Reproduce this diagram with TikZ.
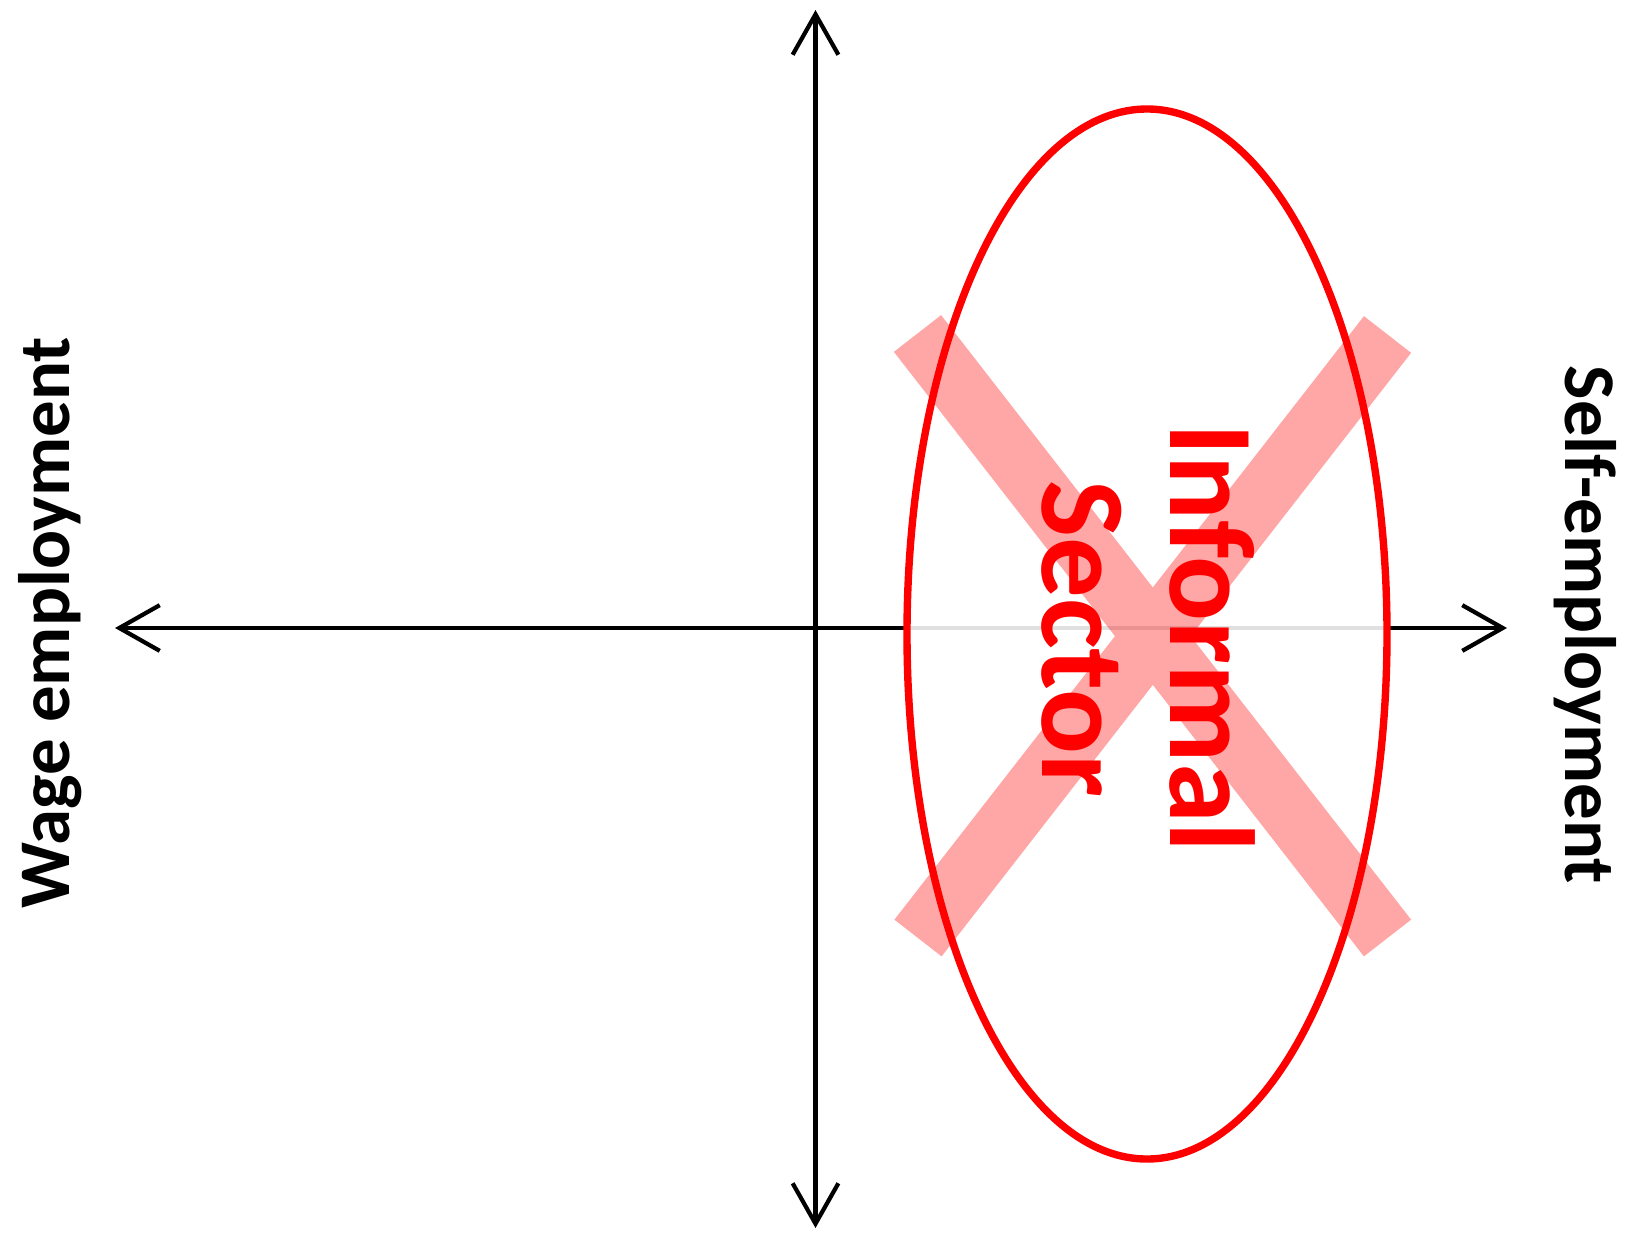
\documentclass[tikz,border=0pt]{standalone}
\usepackage{fontspec}
\setmainfont{Carlito}
\usetikzlibrary{arrows.meta}
\begin{document}
\begin{tikzpicture}[x=0.01cm, y=-0.01cm, >={Straight Barb[length=11.5pt, width=13pt]}]

	% Styles
	\tikzset{
		axisLine/.style={line width=1.2pt, black, line cap=round},
		crossBar/.style={red, opacity=0.35, line width=17pt},
		sectorRing/.style={red, line width=2.1pt},
		axisLabel/.style={font=\fontsize{20.7}{25}\selectfont\bfseries, black, anchor=base},
		sectorLabel/.style={font=\fontsize{34.4}{40}\selectfont\bfseries, red, anchor=base, rotate=-90}
	}

	% Page size
	\useasboundingbox (0,0) rectangle (1636,1236);

	% End points of the two axes
	\coordinate (top) at (815.5,10);
	\coordinate (bottom) at (815.5,1228);
	\coordinate (left) at (115,628);
	\coordinate (right) at (1507,628);

	% Axes
	\draw[axisLine, <->] (left) -- (right);
	\draw[axisLine, <->] (bottom) -- (top);

	% Ellipse background (dims the axis behind it)
	\fill[white, opacity=0.88] (1147,634) ellipse [x radius=240, y radius=525];

	% Cross over the sector
	\draw[crossBar] (917.5,333.5) -- (1387.5,938) (1387.5,334.5) -- (918,938);

	% Ellipse outline
	\draw[sectorRing] (1147,634) ellipse [x radius=240, y radius=525];

	% Labels
	\node[axisLabel, rotate=90] (wage) at (70,623) {Wage employment};
	\node[axisLabel, rotate=-90] (self) at (1565,625) {Self-employment};
	\node[sectorLabel] (informal) at (1170,638) {Informal};
	\node[sectorLabel] (sector) at (1042,639) {Sector};

\end{tikzpicture}
\end{document}
